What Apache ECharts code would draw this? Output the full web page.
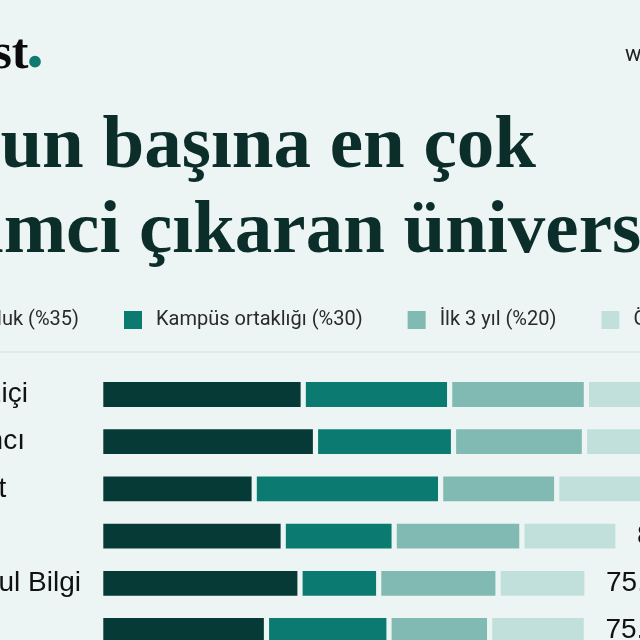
<!DOCTYPE html>
<html><head><meta charset="utf-8">
<script src="https://cdn.jsdelivr.net/npm/echarts@6/dist/echarts.min.js"></script>
<style>html,body{margin:0;padding:0;background:#edf5f4}#c{width:640px;height:640px}</style>
</head><body><div id="c"></div>
<script>
// ---- data ----
const categories = ['Boğaziçi', 'Sabancı', 'Bilkent', 'Koç', 'İstanbul Bilgi', 'İTÜ'];
const seriesNames = ['Girişimci yoğunluk (%35)', 'Kampüs ortaklığı (%30)', 'İlk 3 yıl (%20)', 'Ödüller (%15)'];
const founderDensity    = [31.4, 33.3, 23.8, 28.3, 30.9, 25.7];
const campusPartnership = [22.7, 21.4, 28.9, 17.2, 12.2, 19.0];
const firstThreeYears   = [21.2, 20.3, 18.0, 19.8, 18.5, 15.6];
const awards            = [14.2, 13.0, 14.5, 14.9, 13.8, 15.0];
const titleLine1 = 'Mezun başına en çok';
const titleLine2 = 'girişimci çıkaran üniversiteler';
const brand = 'Ekonomist';
const site = 'www.ekonomist.com.tr';

// ---- style ----
const BG = '#edf5f4';
const COLORS = ['#063a36', '#0b7a70', '#80bab2', '#c2e0db'];
const ctx = document.createElement('canvas').getContext('2d');
function tw(text, font) { ctx.font = font; return ctx.measureText(text).width; }
const titleFont = 'bold 75px "Liberation Serif"';
const legendFont = '20px Roboto';

const allSeries = [founderDensity, campusPartnership, firstThreeYears, awards];
function total(i) {
  return allSeries.reduce((s, arr) => s + arr[i], 0);
}
function fmt(v) { return v.toFixed(1).replace('.', ','); }

const chart = echarts.init(document.getElementById('c'), null, {renderer: 'canvas'});
chart.setOption({
  backgroundColor: BG,
  animation: false,
  grid: {left: 100.7, top: 370.9, width: 645, height: 283.2, containLabel: false, outerBoundsMode: 'none'},
  xAxis: {type: 'value', min: 0, max: 100, show: false},
  yAxis: {
    type: 'category', data: categories, inverse: true,
    axisLine: {show: false}, axisTick: {show: false}, splitLine: {show: false},
    axisLabel: {align: 'left', margin: 178.5, fontSize: 28, fontFamily: 'Liberation Sans', color: '#111'}
  },
  legend: {
    data: seriesNames,
    left: 40 - tw(seriesNames[0], legendFont),
    top: 304, width: 2000,
    icon: 'rect', itemWidth: 20, itemHeight: 20, itemGap: 43,
    textStyle: {fontSize: 20, fontFamily: 'Roboto', color: '#2a2a2a', padding: [0, 0, 0, 8]}
  },
  series: allSeries.map((arr, k) => ({
    name: seriesNames[k], type: 'bar', stack: 'total', data: arr,
    barWidth: 30,
    itemStyle: {color: COLORS[k], borderColor: BG, borderWidth: 2.6},
    label: k === 3 ? {
      show: true, position: 'right', distance: 19,
      formatter: p => fmt(total(p.dataIndex)),
      fontSize: 28, fontFamily: 'Liberation Sans', color: '#111'
    } : {show: false}
  })),
  graphic: [
    {type: 'text', x: 28.5, y: 55, style: {text: brand, font: 'bold 50px "Liberation Serif"', fill: '#0b0b0b', align: 'right', textAlign: 'right', verticalAlign: 'middle', textVerticalAlign: 'middle'}},
    {type: 'text', x: 26, y: 48, style: {text: '.', font: 'bold 72px "Liberation Serif"', fill: '#0e7a70', align: 'left', textAlign: 'left', verticalAlign: 'middle', textVerticalAlign: 'middle'}},
    {type: 'text', x: 625, y: 55, style: {text: site, font: '22px Roboto', fill: '#222', align: 'left', textAlign: 'left', verticalAlign: 'middle', textVerticalAlign: 'middle'}},
    {type: 'text', x: 536, y: 147.5, style: {text: titleLine1, font: titleFont, fill: '#0b2e2b', align: 'right', textAlign: 'right', verticalAlign: 'middle', textVerticalAlign: 'middle'}},
    {type: 'text', x: 139 - tw('girişimci ', titleFont), y: 233, style: {text: titleLine2, font: titleFont, fill: '#0b2e2b', align: 'left', textAlign: 'left', verticalAlign: 'middle', textVerticalAlign: 'middle'}},
    {type: 'line', shape: {x1: 0, y1: 352, x2: 640, y2: 352}, style: {stroke: '#dce5e4', lineWidth: 1.5}}
  ]
});
</script></body></html>
